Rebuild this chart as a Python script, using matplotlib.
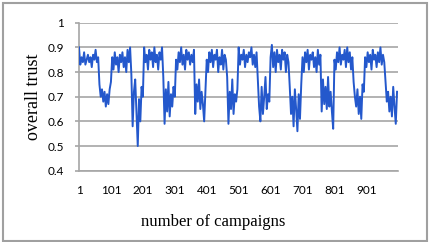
import matplotlib
matplotlib.use("Agg")
import matplotlib.pyplot as plt
from matplotlib.patches import Rectangle
import numpy as np

# ---- data (sampled every 4 campaigns) ----
high_1 = [0.90, 0.83, 0.86, 0.84, 0.88, 0.83, 0.85, 0.87, 0.84, 0.86, 0.82, 0.87, 0.85, 0.89, 0.84, 0.86]
low_1 = [0.75, 0.70, 0.73, 0.68, 0.72, 0.66, 0.71, 0.67, 0.73, 0.76]
high_2 = [0.86, 0.81, 0.88, 0.83, 0.86, 0.80, 0.87, 0.84, 0.88, 0.82, 0.86, 0.80, 0.89, 0.84, 0.90]
low_2 = [0.79, 0.58, 0.72, 0.77, 0.64, 0.50, 0.69, 0.60, 0.74, 0.70]
high_3 = [0.90, 0.84, 0.87, 0.81, 0.89, 0.85, 0.88, 0.82, 0.90, 0.84, 0.87, 0.81, 0.88, 0.85, 0.90]
low_3 = [0.78, 0.59, 0.73, 0.64, 0.76, 0.62, 0.71, 0.66, 0.74, 0.70]
high_4 = [0.85, 0.81, 0.88, 0.84, 0.90, 0.83, 0.87, 0.81, 0.89, 0.85, 0.88, 0.83, 0.87, 0.84, 0.89]
low_4 = [0.63, 0.75, 0.68, 0.77, 0.65, 0.72, 0.67, 0.60, 0.73]
high_5 = [0.85, 0.80, 0.88, 0.84, 0.89, 0.82, 0.87, 0.85, 0.89, 0.80, 0.86, 0.83, 0.89, 0.81, 0.87, 0.85]
low_5 = [0.78, 0.59, 0.72, 0.65, 0.77, 0.63, 0.71, 0.68, 0.73]
high_6 = [0.90, 0.83, 0.87, 0.85, 0.89, 0.82, 0.87, 0.84, 0.88, 0.86, 0.90, 0.83, 0.87, 0.82, 0.88]
low_6 = [0.77, 0.66, 0.60, 0.74, 0.63, 0.70, 0.78, 0.65, 0.71, 0.68]
high_7 = [0.86, 0.91, 0.82, 0.88, 0.80, 0.89, 0.84, 0.87, 0.81, 0.89, 0.85, 0.88, 0.80, 0.87, 0.84]
low_7 = [0.74, 0.63, 0.70, 0.58, 0.73, 0.65, 0.56, 0.71, 0.61, 0.75]
high_8 = [0.86, 0.80, 0.88, 0.84, 0.89, 0.81, 0.87, 0.85, 0.88, 0.82, 0.86, 0.80, 0.89, 0.83, 0.87]
low_8 = [0.64, 0.77, 0.67, 0.74, 0.65, 0.78, 0.66, 0.72, 0.64, 0.57]
high_9 = [0.85, 0.81, 0.88, 0.84, 0.90, 0.83, 0.87, 0.85, 0.89, 0.82, 0.90, 0.84, 0.88, 0.81, 0.86]
low_9 = [0.76, 0.70, 0.66, 0.73, 0.63, 0.70, 0.61, 0.75, 0.72]
high_10 = [0.86, 0.82, 0.88, 0.84, 0.87, 0.81, 0.89, 0.85, 0.87, 0.82, 0.88, 0.84, 0.90, 0.83, 0.87, 0.84]
low_10 = [0.76, 0.68, 0.72, 0.64, 0.70, 0.62, 0.74, 0.66, 0.59, 0.72]

segments = [high_1, low_1, high_2, low_2, high_3, low_3, high_4, low_4, high_5, low_5,
            high_6, low_6, high_7, low_7, high_8, low_8, high_9, low_9, high_10, low_10]
trust = [v for seg in segments for v in seg]
campaigns = list(range(1, 1 + 4 * len(trust), 4))

x_ticks = [1, 101, 201, 301, 401, 501, 601, 701, 801, 901]
y_ticks = [0.4, 0.5, 0.6, 0.7, 0.8, 0.9, 1.0]
y_tick_labels = ["0.4", "0.5", "0.6", "0.7", "0.8", "0.9", "1"]

# ---- figure ----
fig = plt.figure(figsize=(4.36, 2.42), dpi=100)
ax = fig.add_axes([79 / 436, 71.3 / 242, 319 / 436, 148 / 242])

grid_c = "#a6a6a6"
ax.plot(campaigns, trust, color="#2458CC", lw=1.4, zorder=3)

ax.set_xlim(1, 1000)
ax.set_ylim(0.4, 1.0)
ax.set_yticks(y_ticks)
ax.set_yticklabels(y_tick_labels)
ax.set_xticks(x_ticks)
ax.set_xticklabels([str(t) for t in x_ticks])

ax.grid(axis="y", color=grid_c, lw=1.2, zorder=1)
ax.set_axisbelow(True)
for s in ["top", "right"]:
    ax.spines[s].set_visible(False)
ax.spines["left"].set_color(grid_c)
ax.spines["left"].set_linewidth(1.2)
ax.spines["bottom"].set_color(grid_c)
ax.spines["bottom"].set_linewidth(1.2)

ax.tick_params(axis="y", length=3, width=1.2, color=grid_c, pad=8, labelsize=8.5)
ax.tick_params(axis="x", length=0, pad=10, labelsize=8.5)
for lab in ax.get_xticklabels() + ax.get_yticklabels():
    lab.set_fontfamily(["Lato", "DejaVu Sans"])

ax.set_ylabel("overall trust", family=["Liberation Serif"], size=13, labelpad=4)
fig.text(213 / 436, 1 - 222 / 242, "number of campaigns", family=["Liberation Serif"],
         size=12, ha="center", va="center")

fig.patches.append(Rectangle((2.5 / 436, 1.2 / 242), 424 / 436, 238 / 242,
                             transform=fig.transFigure, fill=False,
                             edgecolor="#a0a0a0", lw=1.5))

fig.savefig("out.png", dpi=100)
